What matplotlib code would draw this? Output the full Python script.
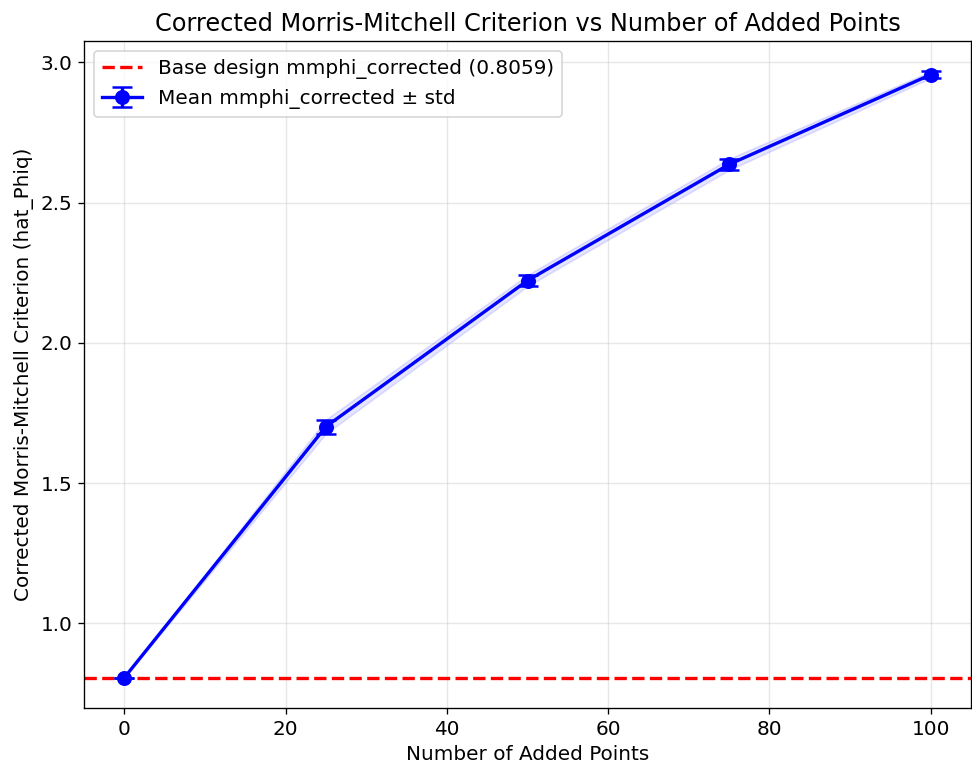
import matplotlib
matplotlib.use("Agg")
import matplotlib.pyplot as plt
import numpy as np

n_added = [0, 25, 50, 75, 100]
mean_vals = [0.8059, 1.701, 2.222, 2.636, 2.956]
std_vals = [0.0, 0.025, 0.02, 0.02, 0.012]
base_value = 0.8059

DPI = 120
fig = plt.figure(figsize=(972 / DPI, 767 / DPI), dpi=DPI)
ax = fig.add_axes([84 / 972, 1 - 708 / 767, 887 / 972, 667 / 767])

x = np.array(n_added)
m = np.array(mean_vals)
s = np.array(std_vals)

ax.axhline(base_value, color='red', linestyle='--', linewidth=2,
           label=f'Base design mmphi_corrected ({base_value:.4f})')
ax.errorbar(x, m, yerr=s, fmt='o-', color='blue', linewidth=2, markersize=8,
            capsize=6, capthick=1.5, label='Mean mmphi_corrected ± std')
ax.fill_between(x, m - s, m + s, color='blue', alpha=0.1)

ax.set_xlabel('Number of Added Points', fontsize=12)
ax.set_ylabel('Corrected Morris-Mitchell Criterion (hat_Phiq)', fontsize=12)
ax.set_title('Corrected Morris-Mitchell Criterion vs Number of Added Points', fontsize=14.4)
ax.tick_params(labelsize=12)
ax.grid(True, alpha=0.3)
ax.legend(fontsize=12, loc='upper left')

fig.savefig('out.png', dpi=DPI)
